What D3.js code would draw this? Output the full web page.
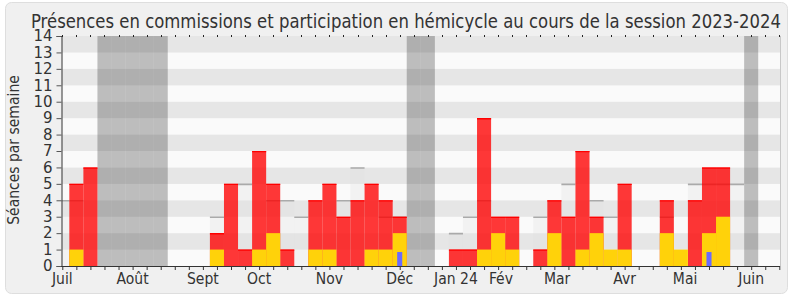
<!DOCTYPE html>
<html><head><meta charset="utf-8">
<script src="https://cdn.jsdelivr.net/npm/d3@7"></script>
<style>
html,body{margin:0;padding:0;background:#fff;}
svg text{font-family:"DejaVu Sans Condensed","DejaVu Sans",sans-serif;}
</style></head>
<body>
<svg id="c" width="790" height="300"></svg>
<script>
// ---- data (week index 0..51) ----
const weeks = d3.range(52);
const commissions = [0,5,6,0,0,0,0,0,0,0,0,2,5,1,7,5,1,0,4,5,3,4,5,4,3,0,0,0,1,1,9,3,3,0,1,4,3,7,3,0,5,0,0,4,0,4,6,6,0,0,0,0];
const hemicycle   = [0,1,0,0,0,0,0,0,0,0,0,1,0,0,1,2,0,0,1,1,0,0,1,1,2,0,0,0,0,0,1,2,1,0,0,2,0,1,2,1,1,0,0,2,1,0,2,3,0,0,0,0];
const questions   = [0,0,0,0,0,0,0,0,0,0,0,0,0,0,0,0,0,0,0,0,0,0,0,0,1,0,0,0,0,0,0,0,0,0,0,0,0,0,0,0,0,0,0,0,0,0,1,0,0,0,0,0];
const mediane     = [4,4,0,0,0,0,0,0,0,0,0,3,0,5,0,4,4,3,0,0,4,6,0,3,3,0,0,0,2,3,4,0,0,0,3,0,5,0,4,3,0,0,0,3,0,5,5,5,5,0,0,0];
const vacances    = [3,4,5,6,7,25,26,49];
const monthLabels = ["Juil","Août","Sept","Oct","Nov","Déc","Jan 24","Fév","Mar","Avr","Mai","Juin"];
const monthWeeks  = [0,5,10,14,19,24,28,31.2,35.2,40,44.3,49];
const yTicks = d3.range(0,15);
const title = "Présences en commissions et participation en hémicycle au cours de la session 2023-2024";
const yLabel = "Séances par semaine";

// ---- layout ----
const svg = d3.select("#c");
const L = 61.5, R = 780, T = 36, B = 266;
const x = d3.scaleLinear().domain([0,51]).range([62.3,779.3]);
const y = d3.scaleLinear().domain([0,14]).range([B,T]);
const w = x(1)-x(0);

svg.append("rect").attr("x",5.5).attr("y",2.5).attr("width",782).attr("height",291)
  .attr("rx",6).attr("fill","#f0f0f0").attr("stroke","#dedede");

svg.append("defs").append("clipPath").attr("id","clip")
  .append("rect").attr("x",L).attr("y",T).attr("width",R-L).attr("height",B-T);
const g = svg.append("g").attr("clip-path","url(#clip)");

// bands
g.selectAll("rect.band").data(d3.range(14)).join("rect")
  .attr("x",L).attr("width",R-L)
  .attr("y",d=>y(d+1)).attr("height",d=>y(d)-y(d+1))
  .attr("fill",d=>d%2? "#e6e6e6":"#fafafa");

// vacances
g.selectAll("rect.vac").data(vacances).join("rect")
  .attr("x",d=>x(d)-w/2).attr("width",w)
  .attr("y",T).attr("height",B-T)
  .attr("fill","rgb(50,50,50)").attr("fill-opacity",0.3);

// mediane (ghost)
const med = weeks.filter(i=>mediane[i]>0);
g.selectAll("rect.med").data(med).join("rect")
  .attr("x",d=>x(d)-w/2).attr("width",w)
  .attr("y",d=>y(mediane[d])).attr("height",d=>B-y(mediane[d]))
  .attr("fill","#e0e0e0").attr("fill-opacity",0.3);
g.selectAll("line.med").data(med).join("line")
  .attr("x1",d=>x(d)-w/2).attr("x2",d=>x(d)+w/2)
  .attr("y1",d=>y(mediane[d])+0.5).attr("y2",d=>y(mediane[d])+0.5)
  .attr("stroke","#aaaaaa").attr("stroke-width",1.6);

// commissions (red)
const com = weeks.filter(i=>commissions[i]>0);
g.selectAll("rect.com").data(com).join("rect")
  .attr("x",d=>x(d)-w/2).attr("width",w)
  .attr("y",d=>y(commissions[d])).attr("height",d=>B-y(commissions[d]))
  .attr("fill","#ff0000").attr("fill-opacity",0.78);
g.selectAll("line.com").data(com).join("line")
  .attr("x1",d=>x(d)-w/2).attr("x2",d=>x(d)+w/2)
  .attr("y1",d=>y(commissions[d])+0.6).attr("y2",d=>y(commissions[d])+0.6)
  .attr("stroke","#ff0000").attr("stroke-width",1.3);

// hemicycle (yellow)
const hem = weeks.filter(i=>hemicycle[i]>0);
g.selectAll("rect.hem").data(hem).join("rect")
  .attr("x",d=>x(d)-w/2).attr("width",w)
  .attr("y",d=>y(hemicycle[d])).attr("height",d=>B-y(hemicycle[d]))
  .attr("fill","#ffd20a");

// questions (blue)
const qw = w*0.36;
const q = weeks.filter(i=>questions[i]>0);
g.selectAll("rect.q").data(q).join("rect")
  .attr("x",d=>x(d)-qw/2).attr("width",qw)
  .attr("y",d=>y(questions[d]*0.85)).attr("height",d=>B-y(questions[d]*0.85))
  .attr("fill","#6a6aff");

// right border
svg.append("line").attr("x1",R+0.5).attr("x2",R+0.5).attr("y1",T).attr("y2",B)
  .attr("stroke","#c8c8c8");

// top tick dots
svg.selectAll("line.tt").data(weeks).join("line")
  .attr("x1",d=>Math.round(x(d))+0.5).attr("x2",d=>Math.round(x(d))+0.5)
  .attr("y1",T-1).attr("y2",T+1).attr("stroke","#222");

// y axis
const ya = svg.append("g").attr("transform",`translate(${L},0)`)
  .call(d3.axisLeft(y).tickValues(yTicks).tickSize(5).tickPadding(4).tickFormat(d3.format("d")));
ya.select(".domain").attr("stroke","#333");
ya.selectAll(".tick line").attr("stroke","#555");
ya.selectAll("text").attr("font-size",15).attr("fill","#333")
  .style("font-family","'DejaVu Sans',sans-serif");

// x axis
const xa = svg.append("g").attr("transform",`translate(0,${B})`)
  .call(d3.axisBottom(x).tickValues(weeks).tickSize(4).tickFormat(""));
xa.select(".domain").attr("d",`M${L},0.5H${R}`).attr("stroke","#333");
xa.selectAll(".tick line").attr("stroke","#333");

svg.selectAll("text.month").data(monthLabels).join("text")
  .attr("x",(d,i)=>x(monthWeeks[i])).attr("y",284)
  .attr("text-anchor","middle").attr("font-size",15.5).attr("fill","#333")
  .text(d=>d);

// title
svg.append("text").attr("x",406).attr("y",28)
  .attr("text-anchor","middle").attr("font-size",19).attr("fill","#333")
  .attr("textLength",750).attr("lengthAdjust","spacingAndGlyphs")
  .text(title);

// y label
svg.append("text").attr("transform","translate(19,150) rotate(-90)")
  .attr("text-anchor","middle").attr("font-size",15.5).attr("fill","#333")
  .text(yLabel);
</script>
</body></html>
